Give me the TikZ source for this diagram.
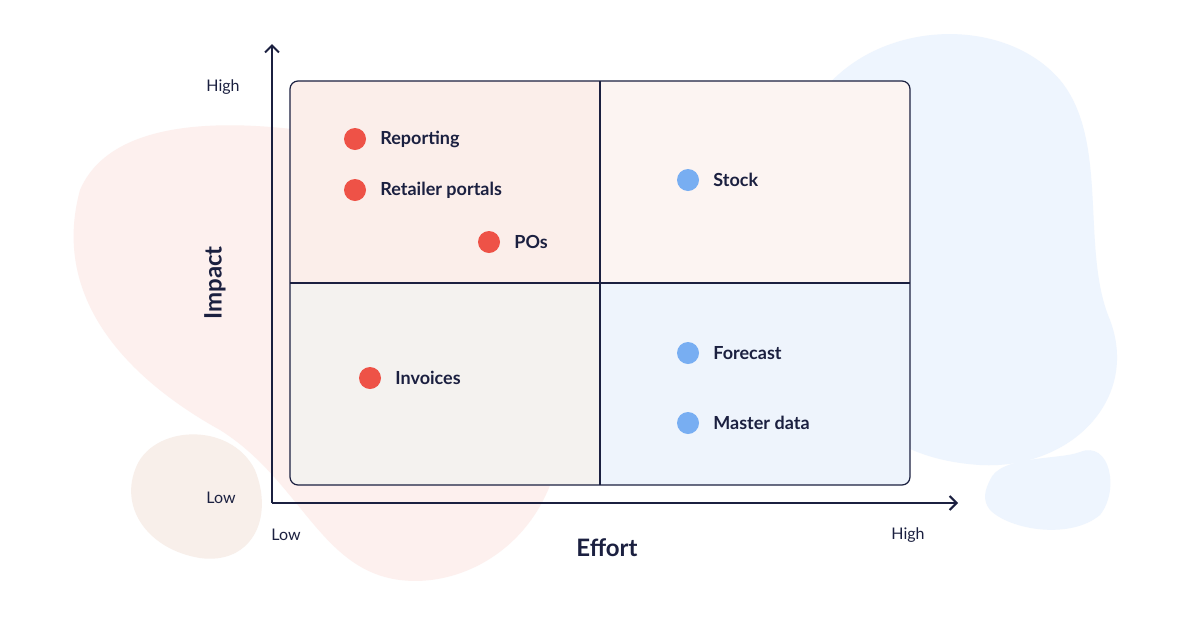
\documentclass[tikz,border=0pt]{standalone}
\usepackage{fontspec}
\setmainfont{Lato}
\usetikzlibrary{arrows.meta}
\definecolor{navy}{HTML}{1B2040}
\definecolor{dotred}{HTML}{EE5247}
\definecolor{dotblue}{HTML}{78AEF2}
\definecolor{blobpink}{HTML}{FDF0EE}
\definecolor{blobbeige}{HTML}{F8EFEA}
\definecolor{blobblue}{HTML}{EEF5FE}
\definecolor{quadtl}{HTML}{FBEEEA}
\definecolor{quadtr}{HTML}{FCF4F2}
\definecolor{quadbl}{HTML}{F4F2EF}
\definecolor{quadbr}{HTML}{EEF4FC}
\begin{document}
\begin{tikzpicture}[x=1pt,y=-1pt,>=latex,
  dotr/.style={circle,fill=dotred,minimum size=22pt,inner sep=0pt},
  dotb/.style={circle,fill=dotblue,minimum size=22pt,inner sep=0pt},
  lbl/.style={anchor=west,xshift=12pt,font=\fontsize{18}{21}\selectfont\bfseries,text=navy,inner sep=2pt},
  tick/.style={font=\fontsize{16}{19}\selectfont,text=navy},
  axis/.style={navy,line width=2pt,-{Straight Barb[length=7pt,width=14pt]}}]
\useasboundingbox[fill=white] (0,0) rectangle (1200,630);

% background blobs
\fill[blobpink] (80,190) .. controls (110,120) and (220,120) .. (300,130)
  .. controls (420,140) and (540,230) .. (560,380)
  .. controls (580,520) and (480,590) .. (400,580)
  .. controls (320,570) and (300,480) .. (220,430)
  .. controls (130,380) and (50,300) .. (80,190);
\fill[blobbeige] (135,470) .. controls (150,425) and (230,420) .. (255,470)
  .. controls (275,520) and (250,565) .. (200,558)
  .. controls (150,550) and (120,510) .. (135,470);
\fill[blobblue] (810,110) .. controls (860,20) and (1000,10) .. (1060,80)
  .. controls (1110,140) and (1080,250) .. (1110,320)
  .. controls (1140,400) and (1070,470) .. (980,465)
  .. controls (900,460) and (840,420) .. (820,330)
  .. controls (800,240) and (780,170) .. (810,110);
\fill[blobblue] (990,480) .. controls (1000,455) and (1060,460) .. (1080,452)
  .. controls (1110,440) and (1120,490) .. (1100,515)
  .. controls (1070,540) and (1010,530) .. (990,510)
  .. controls (982,500) and (985,490) .. (990,480);

% quadrants
\fill[white,rounded corners=8pt] (290,81) rectangle (910,485);
\begin{scope}
\clip[rounded corners=8pt] (290,81) rectangle (910,485);
\fill[quadtl] (290,81) rectangle (600,283);
\fill[quadtr] (600,81) rectangle (910,283);
\fill[quadbl] (290,283) rectangle (600,485);
\fill[quadbr] (600,283) rectangle (910,485);
\end{scope}
\draw[navy,line width=1.2pt,rounded corners=8pt] (290,81) rectangle (910,485);
\draw[navy,line width=1.2pt] (600,81) -- (600,485) (290,283) -- (910,283);

% axes
\coordinate (O) at (272,503);
\coordinate (Ytop) at (272,44);
\coordinate (Xend) at (958,503);
\draw[axis] (O) -- (Ytop);
\draw[axis] (O) -- (Xend);

\node[tick] (yhigh) at (223,87) {High};
\node[tick] (ylow) at (221,498) {Low};
\node[tick] (xlow) at (286,535) {Low};
\node[tick] (xhigh) at (908,535) {High};
\node[font=\fontsize{24}{27}\selectfont\bfseries,text=navy] (effort) at (607,548) {Effort};
\node[font=\fontsize{24}{27}\selectfont\bfseries,text=navy,rotate=90] (impact) at (215,283) {Impact};

% items
\node[dotr] (rep) at (355,139) {};
\node[lbl] at (rep.east) {Reporting};
\node[dotr] (ret) at (355,190) {};
\node[lbl] at (ret.east) {Retailer portals};
\node[dotr] (pos) at (489,242) {};
\node[lbl] at (pos.east) {POs};
\node[dotr] (inv) at (370,378) {};
\node[lbl] at (inv.east) {Invoices};
\node[dotb] (stock) at (688,180) {};
\node[lbl] at (stock.east) {Stock};
\node[dotb] (fc) at (688,353) {};
\node[lbl] at (fc.east) {Forecast};
\node[dotb] (md) at (688,423) {};
\node[lbl] at (md.east) {Master data};
\end{tikzpicture}
\end{document}
